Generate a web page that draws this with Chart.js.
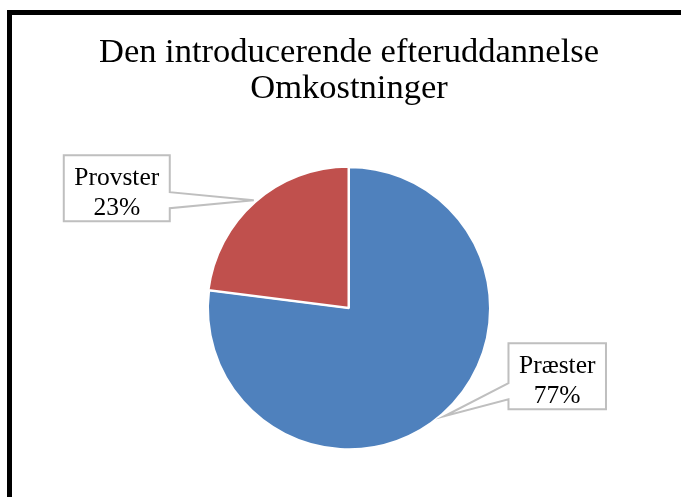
<!DOCTYPE html>
<html>
<head>
<meta charset="utf-8">
<script src="https://cdn.jsdelivr.net/npm/chart.js@4"></script>
<style>
  html, body { margin: 0; padding: 0; background: #fff; }
  #wrap { width: 681px; height: 497px; }
</style>
</head>
<body>
<div id="wrap"><canvas id="myChart" width="681" height="497"></canvas></div>
<script>
// data
var categories = ['Præster', 'Provster']
var values = [77, 23]
var colors = ['#4F81BD', '#C0504D']
var titleLines = ['Den introducerende efteruddannelse', 'Omkostninger']

// where each callout box sits relative to its slice (dx, dy of box centre from the tip)
var calloutShift = [[113, -40], [-137, -12]]

var frame = {
    id: 'frame',
    beforeDraw: function(chart) {
        var ctx = chart.ctx
        ctx.save()
        ctx.fillStyle = '#fff'
        ctx.fillRect(0, 0, chart.width, chart.height)
        ctx.fillStyle = '#000'
        ctx.fillRect(7, 10, 5, chart.height - 10)
        ctx.fillRect(7, 10, chart.width - 7, 5)
        ctx.restore()
    }
}

var callouts = {
    id: 'callouts',
    afterDatasetsDraw: function(chart) {
        var ctx = chart.ctx
        var arcs = chart.getDatasetMeta(0).data
        var total = values.reduce(function(a, b) { return a + b }, 0)
        ctx.save()
        ctx.font = '25.5px "Liberation Serif"'
        arcs.forEach(function(arc, i) {
            var mid = (arc.startAngle + arc.endAngle) / 2
            var r = arc.outerRadius + 3
            var tipX = arc.x + Math.cos(mid) * r
            var tipY = arc.y + Math.sin(mid) * r
            var lines = [categories[i], Math.round(values[i] / total * 100) + '%']
            var w = Math.max(ctx.measureText(lines[0]).width, ctx.measureText(lines[1]).width) + 21
            var h = 66
            var cx = tipX + calloutShift[i][0]
            var cy = tipY + calloutShift[i][1]
            var x0 = cx - w / 2, x1 = cx + w / 2, y0 = cy - h / 2, y1 = cy + h / 2
            var by = Math.min(Math.max(tipY, y0 + 18), y1 - 18)

            ctx.beginPath()
            if (tipX > cx) {
                ctx.moveTo(x0, y0)
                ctx.lineTo(x1, y0)
                ctx.lineTo(x1, by - 8)
                ctx.lineTo(tipX, tipY)
                ctx.lineTo(x1, by + 8)
                ctx.lineTo(x1, y1)
                ctx.lineTo(x0, y1)
            } else {
                ctx.moveTo(x0, y0)
                ctx.lineTo(x1, y0)
                ctx.lineTo(x1, y1)
                ctx.lineTo(x0, y1)
                ctx.lineTo(x0, by + 8)
                ctx.lineTo(tipX, tipY)
                ctx.lineTo(x0, by - 8)
            }
            ctx.closePath()
            ctx.fillStyle = '#fff'
            ctx.fill()
            ctx.lineWidth = 2
            ctx.strokeStyle = '#BFBFBF'
            ctx.lineJoin = 'miter'
            ctx.stroke()

            ctx.fillStyle = '#000'
            ctx.textAlign = 'center'
            ctx.textBaseline = 'alphabetic'
            ctx.fillText(lines[0], cx, cy - 3)
            ctx.fillText(lines[1], cx, cy + 27)
        })
        ctx.restore()
    }
}

new Chart(document.getElementById('myChart'), {
    type: 'pie',
    data: {
        labels: categories,
        datasets: [{
            data: values,
            backgroundColor: colors,
            borderColor: '#fff',
            borderWidth: 2,
            offset: [0, 3]
        }]
    },
    options: {
        responsive: false,
        animation: false,
        radius: 141,
        layout: {
            padding: { left: 17, right: 0, top: 15, bottom: 0 }
        },
        plugins: {
            legend: { display: false },
            tooltip: { enabled: false },
            title: {
                display: true,
                text: titleLines,
                color: '#000',
                font: { family: '"Liberation Serif"', size: 34.5, weight: 'normal', lineHeight: 1.05 },
                padding: { top: 20, bottom: 12 }
            }
        }
    },
    plugins: [frame, callouts]
})
</script>
</body>
</html>
